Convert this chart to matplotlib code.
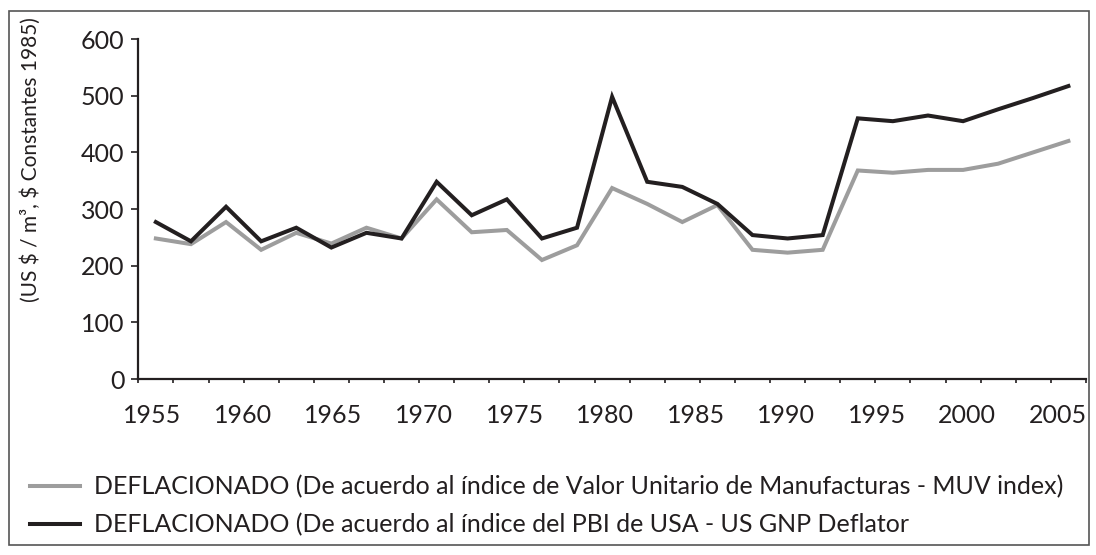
import matplotlib
matplotlib.use("Agg")
import matplotlib.pyplot as plt
from matplotlib.patches import Rectangle
import numpy as np

plt.rcParams['font.family'] = ['Lato', 'DejaVu Sans']

# values, one per category (27 points)
muv_index = [248, 238, 277, 228, 258, 239, 267, 248, 317, 259, 263, 210, 236,
             337, 309, 277, 307, 228, 223, 228, 368, 364, 369, 369, 380, 400, 420]
gnp_deflator = [277, 243, 304, 243, 267, 232, 258, 248, 348, 289, 317, 248, 267,
                498, 348, 339, 309, 254, 248, 254, 460, 455, 465, 455, 476, 496, 517]
year_labels = ['1955', '1960', '1965', '1970', '1975', '1980',
               '1985', '1990', '1995', '2000', '2005']
legend_labels = [
    'DEFLACIONADO (De acuerdo al índice de Valor Unitario de Manufacturas - MUV index)',
    'DEFLACIONADO (De acuerdo al índice del PBI de USA - US GNP Deflator',
]

gray = '#9d9d9d'
black = '#231f20'

fig = plt.figure(figsize=(10.96, 5.55), dpi=100)
ax = fig.add_axes([0.1262, 0.3171, 0.8646, 0.6126])

x = np.arange(len(muv_index))
l1, = ax.plot(x, muv_index, color=gray, lw=2.9, solid_joinstyle='miter')
l2, = ax.plot(x, gnp_deflator, color=black, lw=2.9, solid_joinstyle='miter')

ax.set_xlim(-0.5, len(x) - 0.5)
ax.set_ylim(0, 600)
ax.set_yticks(range(0, 601, 100))

# category boundary ticks, labels every ~5 years
ax.set_xticks(np.arange(-0.5, len(x)), minor=True)
label_pos = np.linspace(-0.1, 25.7, len(year_labels))
ax.set_xticks(label_pos)
ax.set_xticklabels(year_labels)
ax.tick_params(axis='x', which='major', length=0, pad=18, labelsize=18,
               colors='#231f20')
ax.tick_params(axis='x', which='minor', length=3, width=1.2, direction='out',
               color='#231f20')
ax.tick_params(axis='y', length=5, width=1.2, pad=5, labelsize=18,
               colors='#231f20')

for s in ['top', 'right']:
    ax.spines[s].set_visible(False)
for s in ['left', 'bottom']:
    ax.spines[s].set_linewidth(1.6)
    ax.spines[s].set_color('#231f20')

fig.text(31 / 1096, 1 - 160 / 555, '(US \\$ / m³, \\$ Constantes 1985)',
         rotation=90, ha='center', va='center', fontsize=15, color='#231f20')

fig.legend([l1, l2], legend_labels, loc='upper left',
           bbox_to_anchor=(30 / 1096, 1 - 475 / 555),
           bbox_transform=fig.transFigure, frameon=False, fontsize=18,
           handlelength=2.0, handletextpad=0.55, labelspacing=0.6,
           borderpad=0, borderaxespad=0, labelcolor='#231f20')

fig.patches.append(Rectangle((9 / 1096, 10 / 555), 1080 / 1096, 534 / 555,
                             transform=fig.transFigure, fill=False,
                             edgecolor='#555555', lw=1.2))

fig.savefig('out.png', dpi=100)
